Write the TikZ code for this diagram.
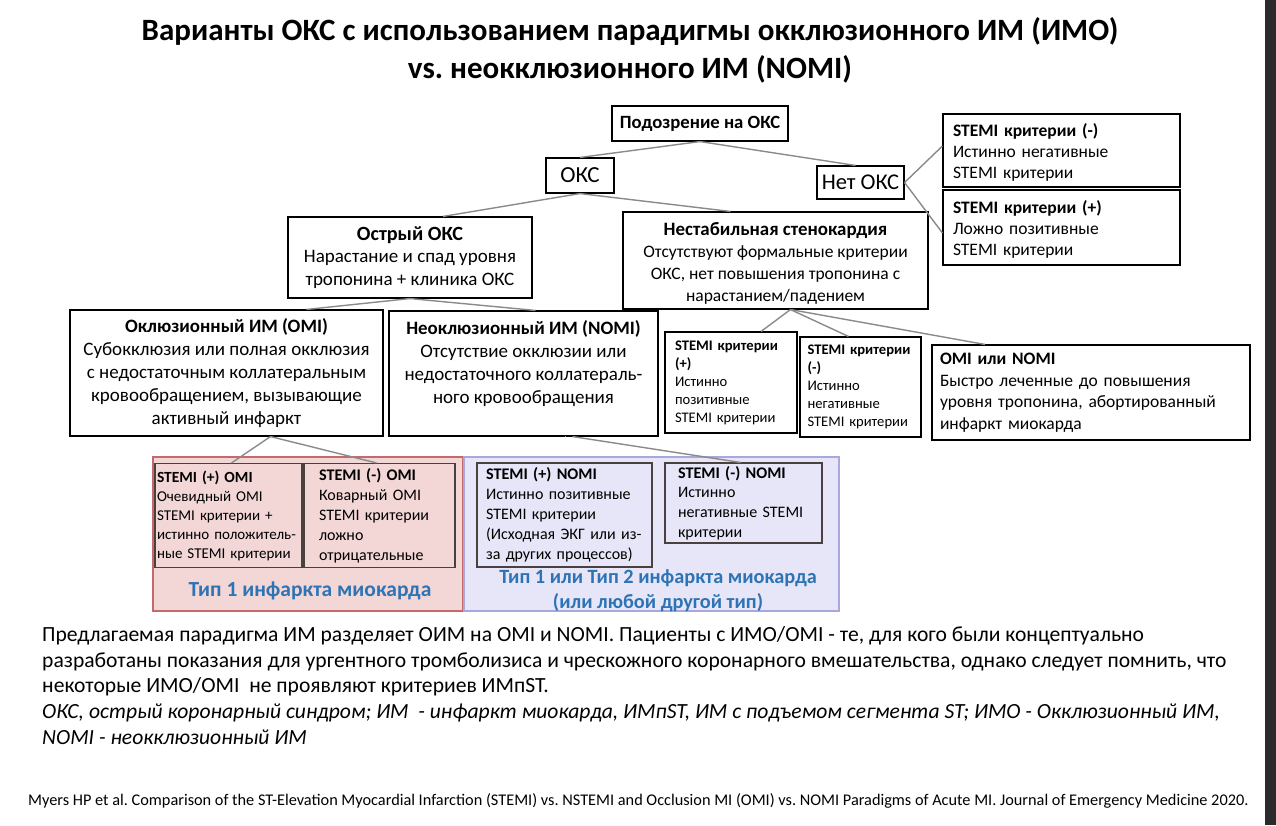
\documentclass[tikz,border=0pt]{standalone}
\usepackage{fontspec}
\setmainfont{Carlito}
\definecolor{conngray}{HTML}{8A8A8A}
\definecolor{pinkfill}{HTML}{F3D6D6}
\definecolor{pinkdraw}{HTML}{C46A6A}
\definecolor{bluefill}{HTML}{E6E6F8}
\definecolor{bluedraw}{HTML}{A8A8DC}
\definecolor{typeblue}{HTML}{2E74B5}
\definecolor{innerdraw}{HTML}{4A4040}
\definecolor{edgedark}{HTML}{2B2B2B}
\frenchspacing
\tikzset{
  bx/.style={draw=black, line width=1.1pt, fill=white, inner sep=0pt, align=center},
  lbx/.style={draw=black, line width=1.1pt, fill=white, inner sep=0pt, align=left},
  ibx/.style={draw=innerdraw, line width=1.1pt, inner sep=0pt, align=left},
  conn/.style={draw=conngray, line width=1.4pt},
  region/.style={line width=1.1pt, inner sep=0pt}
}
\begin{document}
\begin{tikzpicture}[x=1pt,y=-1pt]
\useasboundingbox (0,0) rectangle (1276,825);
\fill[white] (0,0) rectangle (1276,825);
\fill[edgedark] (1265,0) rectangle (1276,825);

% title
\node[align=center, font=\fontsize{31}{38}\selectfont\bfseries] (title) at (630,50)
  {Варианты ОКС с использованием парадигмы окклюзионного ИМ (ИМО)\\vs. неокклюзионного ИМ (NOMI)};

% top level
\node[bx, minimum width=176, minimum height=35, font=\fontsize{18.7}{22}\selectfont\bfseries] (pod) at (700,123.5) {Подозрение на ОКС};
\node[bx, minimum width=68, minimum height=35, font=\fontsize{23}{26}\selectfont] (oks) at (580,175.5) {ОКС};
\node[bx, minimum width=87, minimum height=33, font=\fontsize{22.5}{26}\selectfont] (noks) at (860.5,182.5) {Нет ОКС};

\node[lbx, minimum width=237, minimum height=73, text width=217, font=\fontsize{17.5}{21}\selectfont] (sneg) at (1061.5,150.5)
  {\rule{0pt}{17pt}\textbf{STEMI критерии (-)}\\Истинно негативные\\STEMI критерии};
\node[lbx, minimum width=237, minimum height=75, text width=217, font=\fontsize{17.5}{21}\selectfont] (spos) at (1061.5,227.5)
  {\rule{0pt}{17pt}\textbf{STEMI критерии (+)}\\Ложно позитивные\\STEMI критерии};

% second level
\node[bx, minimum width=244, minimum height=81, font=\fontsize{19}{22.5}\selectfont] (acute) at (410,257.5)
  {{\fontsize{20.2}{22.5}\selectfont\bfseries Острый ОКС}\\Нарастание и спад уровня\\тропонина + клиника ОКС};
\node[bx, minimum width=305, minimum height=97, font=\fontsize{17.5}{22}\selectfont] (unst) at (775.5,260.5)
  {\rule{0pt}{19pt}{\fontsize{18.9}{22}\selectfont\bfseries Нестабильная стенокардия}\\Отсутствуют формальные критерии\\ОКС, нет повышения тропонина с\\нарастанием/падением};

% third level
\node[bx, minimum width=313, minimum height=126, font=\fontsize{19}{23}\selectfont] (omi) at (226.5,373)
  {{\fontsize{18.9}{23}\selectfont\bfseries Оклюзионный ИМ (OMI)}\\Субокклюзия или полная окклюзия\\с недостаточным коллатеральным\\кровообращением, вызывающие\\активный инфаркт};
\node[bx, minimum width=269, minimum height=125, font=\fontsize{19}{23}\selectfont] (nomi) at (523.5,373.5)
  {{\fontsize{18.9}{23}\selectfont\bfseries Неоклюзионный ИМ (NOMI)}\\Отсутствие окклюзии или\\недостаточного коллатераль-\\ного кровообращения\\\mbox{}};
\node[lbx, minimum width=132, minimum height=101, text width=112, font=\fontsize{14.6}{18}\selectfont] (sp) at (731,382.5)
  {\textbf{STEMI критерии}\\\textbf{(+)}\\Истинно\\позитивные\\STEMI критерии};
\node[lbx, minimum width=121, minimum height=100, text width=106, font=\fontsize{14.6}{18}\selectfont] (sn) at (860.5,387)
  {\textbf{STEMI критерии}\\\textbf{(-)}\\Истинно\\негативные\\STEMI критерии};
\node[lbx, minimum width=318, minimum height=95, text width=302, font=\fontsize{17.5}{21.5}\selectfont] (on) at (1091,392.5)
  {\textbf{OMI или NOMI}\\Быстро леченные до повышения\\уровня тропонина, абортированный\\инфаркт миокарда};

% regions
\node[region, draw=pinkdraw, fill=pinkfill, minimum width=310, minimum height=154] (pink) at (308,534) {};
\node[region, draw=bluedraw, fill=bluefill, minimum width=375, minimum height=154] (blue) at (651.5,534) {};

\node[ibx, minimum width=147, minimum height=104, text width=143, font=\fontsize{15}{19}\selectfont] (spomi) at (228.5,515.5)
  {{\fontsize{15.5}{19}\selectfont\bfseries STEMI (+) OMI}\\Очевидный OMI\\STEMI критерии +\\истинно положитель-\\ные STEMI критерии};
\node[ibx, minimum width=151, minimum height=104, text width=121, font=\fontsize{16}{20}\selectfont] (snomi) at (379.5,515.5)
  {{\fontsize{16.2}{20}\selectfont\bfseries STEMI (-) OMI}\\Коварный OMI\\STEMI критерии\\ложно\\отрицательные};
\node[ibx, minimum width=175, minimum height=104, text width=157, font=\fontsize{16}{20}\selectfont] (spnomi) at (564.5,515)
  {{\fontsize{16.2}{20}\selectfont\bfseries STEMI (+) NOMI}\\Истинно позитивные\\STEMI критерии\\(Исходная ЭКГ или из-\\за других процессов)};
\node[ibx, minimum width=157, minimum height=80, text width=131, font=\fontsize{16}{19.7}\selectfont] (snnomi) at (743.5,503)
  {{\fontsize{16.2}{19.7}\selectfont\bfseries STEMI (-) NOMI}\\Истинно\\негативные STEMI\\критерии};

\node[text=typeblue, font=\fontsize{21.5}{25}\selectfont\bfseries] (t1) at (310,591) {Тип 1 инфаркта миокарда};
\node[text=typeblue, align=center, font=\fontsize{20.3}{25}\selectfont\bfseries] (t12) at (658,590.5) {Тип 1 или Тип 2 инфаркта миокарда\\(или любой другой тип)};

% bottom text
\node[anchor=north west, inner sep=0pt, align=left, font=\fontsize{21.6}{25.8}\selectfont] (para) at (42,626)
  {Предлагаемая парадигма ИМ разделяет ОИМ на OMI и NOMI. Пациенты с ИМО/OMI - те, для кого были концептуально\\
   разработаны показания для ургентного тромболизиса и чрескожного коронарного вмешательства, однако следует помнить, что\\
   некоторые ИМО/OMI\ \ не проявляют критериев ИМпST.\\
   \itshape ОКС, острый коронарный синдром; ИМ\ \ - инфаркт миокарда, ИМпST, ИМ с подъемом сегмента ST; ИМО - Окклюзионный ИМ,\\
   \itshape NOMI - неокклюзионный ИМ};
\node[anchor=west, inner sep=0pt, font=\fontsize{16.3}{19}\selectfont] (cite) at (28,801)
  {Myers HP et al. Comparison of the ST-Elevation Myocardial Infarction (STEMI) vs. NSTEMI and Occlusion MI (OMI) vs. NOMI Paradigms of Acute MI. Journal of Emergency Medicine 2020.};

% connectors
\draw[conn] (pod.south) -- (oks.north);
\draw[conn] (pod.south) -- ([xshift=-5pt]noks.north);
\draw[conn] (noks.east) -- ([yshift=4.5pt]sneg.west);
\draw[conn] (noks.east) -- ([yshift=-5.5pt]spos.west);
\draw[conn] (oks.south) -- ([xshift=33pt]acute.north);
\draw[conn] (oks.south) -- ([xshift=-45pt]unst.north);
\draw[conn] (acute.south) -- ([xshift=80pt]omi.north);
\draw[conn] (acute.south) -- ([xshift=12pt]nomi.north);
\draw[conn] ([xshift=15pt]unst.south) -- ([xshift=30pt]sp.north);
\draw[conn] ([xshift=15pt]unst.south) -- ([xshift=-12pt]sn.north);
\draw[conn] ([xshift=15pt]unst.south) -- ([xshift=-106pt]on.north);
\draw[conn] ([xshift=44pt]omi.south) -- ([xshift=3pt]spomi.north);
\draw[conn] ([xshift=44pt]omi.south) -- ([xshift=-3pt]snomi.north);
\draw[conn] ([xshift=41.5pt]nomi.south) -- (nomi.south -| spnomi.north);
\draw[conn] ([xshift=49pt]nomi.south) -- ([xshift=-3pt]snnomi.north);
\end{tikzpicture}
\end{document}
